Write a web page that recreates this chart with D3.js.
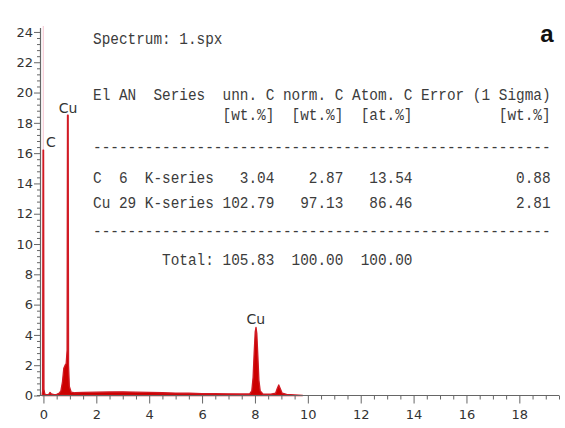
<!DOCTYPE html>
<html>
<head>
<meta charset="utf-8">
<script src="https://cdn.jsdelivr.net/npm/d3@7"></script>
<style>
  body { margin: 0; background: #fff; }
</style>
</head>
<body>
<div id="chart"></div>
<script>
// spectrum (keV, cps/eV)
const energy = [-0.05, -0.03, -0.015, 0.005, 0.02, 0.05, 0.12, 0.2, 0.25, 0.3, 0.4, 0.5, 0.6, 0.66, 0.72, 0.77,
  0.82, 0.86, 0.895, 0.91, 0.935, 0.95, 0.98, 1.05, 1.2, 1.5, 2.0, 2.5, 3.0, 3.5, 4.0, 4.5, 5.0, 5.5, 6.0, 6.5,
  7.0, 7.5, 7.8, 7.88, 7.93, 7.97, 8.01, 8.04, 8.07, 8.11, 8.15, 8.2, 8.3, 8.6, 8.78, 8.84, 8.9, 8.96, 9.03,
  9.2, 9.5, 9.8];
const cps = [0, 0.3, 16.2, 16.2, 0.4, 0.1, 0.05, 0.08, 0.2, 0.1, 0.05, 0.08, 0.15, 0.3, 0.9, 1.8,
  2.0, 2.1, 3.0, 18.5, 18.5, 2.0, 0.6, 0.22, 0.18, 0.2, 0.22, 0.23, 0.24, 0.22, 0.2, 0.18, 0.16, 0.15, 0.13, 0.12,
  0.11, 0.1, 0.1, 0.3, 1.2, 2.8, 4.2, 4.5, 4.1, 2.6, 1.0, 0.3, 0.1, 0.09, 0.15, 0.45, 0.7, 0.45, 0.15,
  0.08, 0.04, 0];

// off-scale part of the zero peak (faint)
const zeroPeak = {e: -0.005, from: 16.2, to: 24.4};

const peakNames = ["C", "Cu", "Cu"];
const peakEnergy = [0.28, 0.93, 8.03];
const peakLabelAt = [16.4, 18.65, 4.72];

const xTicks = [0, 2, 4, 6, 8, 10, 12, 14, 16, 18];
const yTicks = [0, 2, 4, 6, 8, 10, 12, 14, 16, 18, 20, 22, 24];

const tableLines = [
  "Spectrum: 1.spx",
  "El AN  Series  unn. C norm. C Atom. C Error (1 Sigma)",
  "               [wt.%]  [wt.%]  [at.%]          [wt.%]",
  "-----------------------------------------------------",
  "C  6  K-series   3.04    2.87   13.54            0.88",
  "Cu 29 K-series 102.79   97.13   86.46            2.81",
  "-----------------------------------------------------",
  "        Total: 105.83  100.00  100.00"
];
const tableBaselines = [44, 100, 120, 152, 183, 208, 236, 265];

const W = 565, H = 428;
const svg = d3.select("#chart").append("svg")
  .attr("width", W)
  .attr("height", H)
  .style("font-family", "DejaVu Sans, sans-serif");

svg.append("rect").attr("width", W).attr("height", H).attr("fill", "#fff");

const x = d3.scaleLinear().domain([-0.13, 19.5]).range([40, 559]);
const y = d3.scaleLinear().domain([0, 24.3]).range([395.5, 27.4]);

// spectrum
const pts = energy.map((e, i) => ({e: e, v: cps[i]}));
const area = d3.area()
  .x(d => x(d.e))
  .y0(y(0))
  .y1(d => y(d.v));

svg.append("line")
  .attr("x1", x(zeroPeak.e)).attr("x2", x(zeroPeak.e))
  .attr("y1", y(zeroPeak.from)).attr("y2", y(zeroPeak.to))
  .attr("stroke", "#f7cdd6")
  .attr("stroke-width", 1.2);

svg.append("path")
  .datum(pts)
  .attr("d", area)
  .attr("fill", "#cc0000")
  .attr("stroke", "#d11a24")
  .attr("stroke-width", 1.3)
  .attr("stroke-linejoin", "round");

// axes
const xAxis = svg.append("g")
  .attr("transform", "translate(0," + y(0) + ")")
  .call(d3.axisBottom(x).tickValues(xTicks).tickSize(8).tickSizeOuter(0).tickFormat(d3.format("d")));
svg.append("g")
  .attr("transform", "translate(0," + y(0) + ")")
  .call(d3.axisBottom(x).tickValues(d3.range(0.5, 19.6, 0.5).filter(v => v % 2 !== 0)).tickSize(4).tickFormat(""))
  .call(g => g.select(".domain").remove());

const yAxis = svg.append("g")
  .attr("transform", "translate(" + x(-0.13) + ",0)")
  .call(d3.axisLeft(y).tickValues(yTicks).tickSize(6).tickSizeOuter(0).tickFormat(d3.format("d")));
svg.append("g")
  .attr("transform", "translate(" + x(-0.13) + ",0)")
  .call(d3.axisLeft(y).tickValues(d3.range(0.4, 24.2, 0.4).filter(v => Math.abs(v / 2 - Math.round(v / 2)) > 0.01)).tickSize(3).tickFormat(""))
  .call(g => g.select(".domain").remove());

svg.selectAll(".domain").attr("stroke", "#666").attr("stroke-width", 1.2);
svg.selectAll(".tick line").attr("stroke", "#666");
xAxis.select(".domain").attr("d", "M" + (x(-0.13) - 3) + ",0H" + x(19.5));

xAxis.selectAll(".tick text")
  .attr("font-size", 13).attr("fill", "#333").attr("font-family", "DejaVu Sans, sans-serif")
  .attr("dy", "0.95em");
yAxis.selectAll(".tick text")
  .attr("font-size", 13).attr("fill", "#333").attr("font-family", "DejaVu Sans, sans-serif")
  .attr("x", -7);

// peak labels
svg.selectAll(".peak")
  .data(peakNames)
  .join("text")
  .attr("class", "peak")
  .attr("x", (d, i) => x(peakEnergy[i]))
  .attr("y", (d, i) => y(peakLabelAt[i]))
  .attr("text-anchor", "middle")
  .attr("font-size", 14)
  .attr("fill", "#333")
  .text(d => d);

// quantification table (monospace, stretched a little vertically like the original)
svg.selectAll(".tbl")
  .data(tableLines)
  .join("text")
  .attr("class", "tbl")
  .attr("transform", (d, i) => "translate(93," + tableBaselines[i] + ") scale(1,1.2)")
  .attr("font-family", "Liberation Mono, monospace")
  .attr("font-size", 14.4)
  .attr("fill", "#3c3c3c")
  .attr("xml:space", "preserve")
  .style("white-space", "pre")
  .text(d => d);

svg.append("text")
  .attr("x", 547)
  .attr("y", 42)
  .attr("text-anchor", "middle")
  .attr("font-family", "Liberation Sans, Arial, sans-serif")
  .attr("font-weight", "bold")
  .attr("font-size", 24)
  .attr("fill", "#111")
  .text("a");
</script>
</body>
</html>
